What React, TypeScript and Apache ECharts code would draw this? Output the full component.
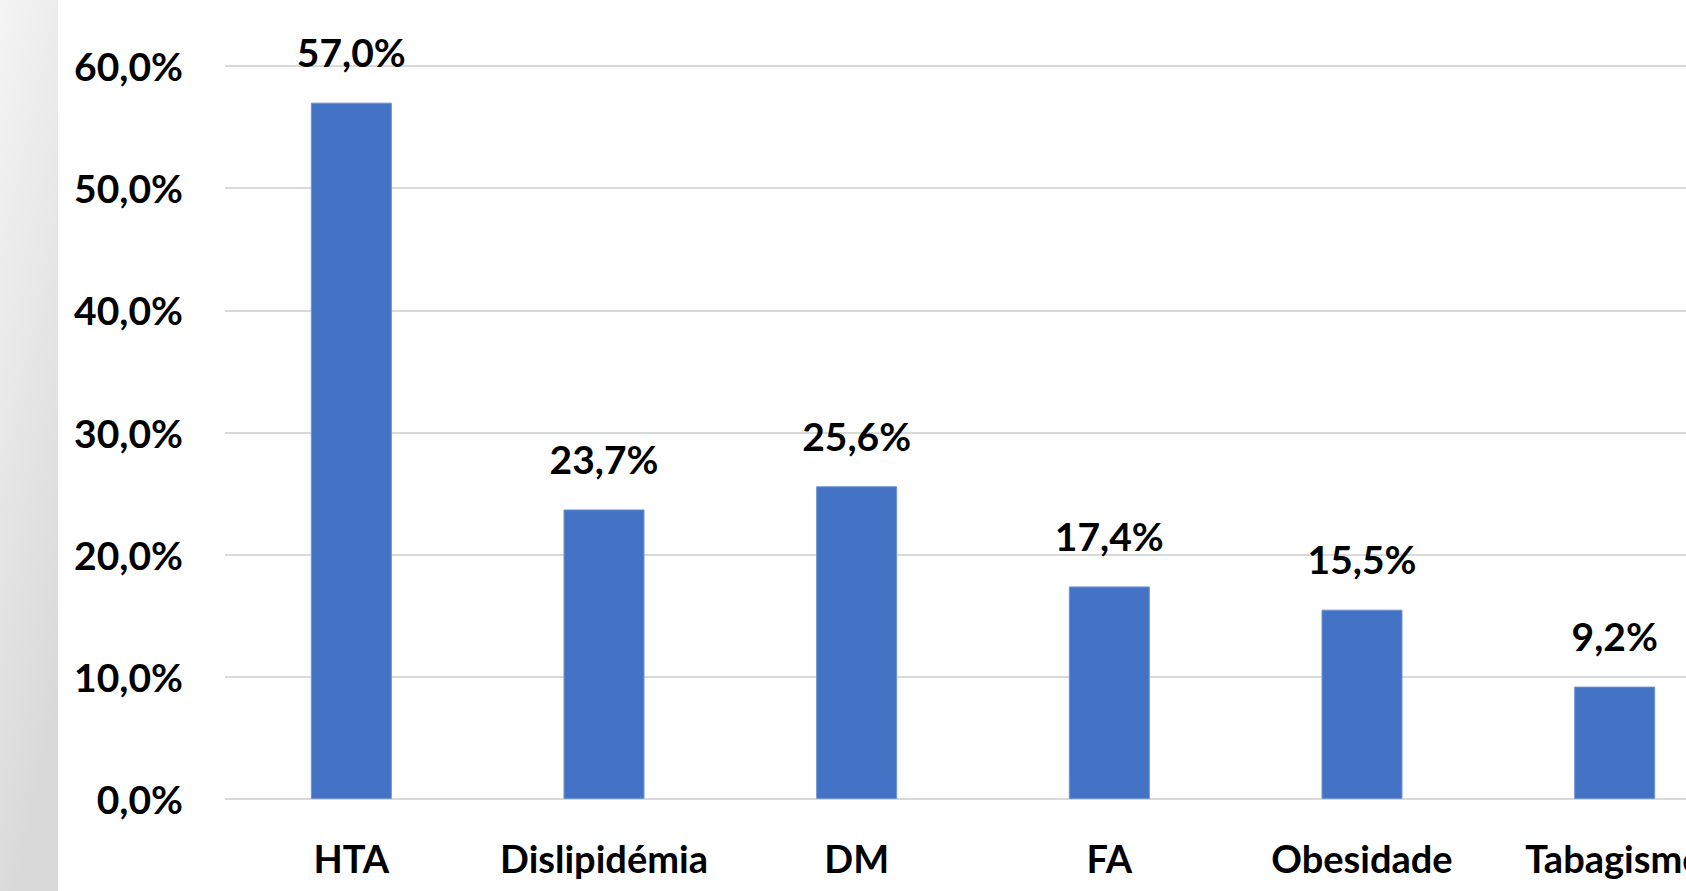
import React, { useEffect, useRef } from "react";
import * as echarts from "echarts";

const categories = ["HTA", "Dislipidémia", "DM", "FA", "Obesidade", "Tabagismo"];
const values = [57.0, 23.7, 25.6, 17.4, 15.5, 9.2];
const yTicks = { min: 0, max: 60, interval: 10 };

const fmt = (v: number) => v.toFixed(1).replace(".", ",") + "%";

export default function App() {
  const ref = useRef<HTMLDivElement>(null);
  useEffect(() => {
    if (!ref.current) return;
    const chart = echarts.init(ref.current, null, { renderer: "svg" });
    const font = "Lato, 'Open Sans', sans-serif";
    chart.setOption({
      animation: false,
      backgroundColor: "#ffffff",
      graphic: [
        {
          type: "rect",
          left: 0,
          top: 0,
          z: -10,
          shape: { width: 58, height: 891 },
          style: {
            fill: new echarts.graphic.LinearGradient(0, 0, 0.3, 1, [
              { offset: 0, color: "#f4f4f4" },
              { offset: 1, color: "#d9d9d9" },
            ]),
          },
        },
      ],
      grid: { left: 225, right: 0, top: 66, bottom: 92, containLabel: false },
      xAxis: {
        type: "category",
        data: categories,
        axisLine: { show: false },
        axisTick: { show: false },
        axisLabel: {
          interval: 0,
          color: "#000",
          fontFamily: font,
          fontWeight: "bold",
          fontSize: 38,
          margin: 40,
        },
      },
      yAxis: {
        type: "value",
        min: yTicks.min,
        max: yTicks.max,
        interval: yTicks.interval,
        axisLine: { show: false },
        axisTick: { show: false },
        splitLine: { lineStyle: { color: "#d9d9d9", width: 2 } },
        axisLabel: {
          color: "#000",
          fontFamily: font,
          fontWeight: "bold",
          fontSize: 39,
          margin: 42,
          formatter: (v: number) => fmt(v),
        },
      },
      series: [
        {
          type: "bar",
          data: values,
          barWidth: 81,
          itemStyle: { color: "#4472C4", borderColor: "#6f93d6", borderWidth: 1 },
          label: {
            show: true,
            position: "top",
            distance: 31,
            color: "#000",
            fontFamily: font,
            fontWeight: "bold",
            fontSize: 39,
            formatter: (p: any) => fmt(p.value),
          },
        },
      ],
    });
    return () => chart.dispose();
  }, []);
  return (
    <div
      style={{
        position: "fixed",
        left: 0,
        top: 0,
        width: 1686,
        height: 891,
        overflow: "hidden",
      }}
    >
      <div ref={ref} style={{ width: 1741, height: 891 }} />
    </div>
  );
}
